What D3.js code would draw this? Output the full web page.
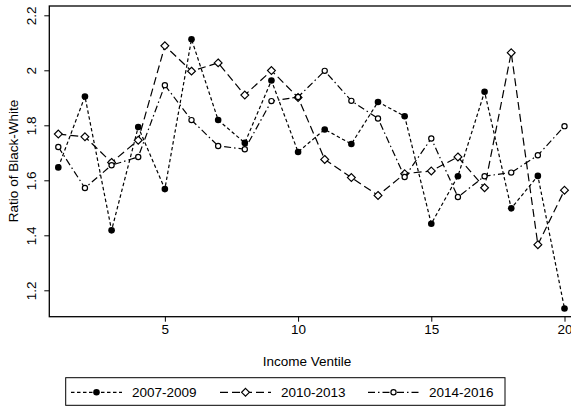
<!DOCTYPE html>
<html><head><meta charset="utf-8">
<script src="https://cdn.jsdelivr.net/npm/d3@7"></script>
<style>body{margin:0;background:#fff}svg{display:block}text{font-family:"Liberation Sans",Arial,sans-serif;fill:#000}</style>
</head><body><svg id="c" width="571" height="406"></svg>
<script>
const ventiles = d3.range(1, 21);
const seriesNames = ["2007-2009", "2010-2013", "2014-2016"];
const s2007 = [1.647,1.905,1.418,1.794,1.568,2.113,1.819,1.736,1.963,1.703,1.785,1.732,1.885,1.833,1.442,1.615,1.922,1.498,1.616,1.134];
const s2010 = [1.768,1.758,1.665,1.746,2.089,1.997,2.027,1.910,1.999,1.901,1.676,1.610,1.545,1.624,1.634,1.685,1.573,2.064,1.366,1.564];
const s2014 = [1.721,1.572,1.655,1.685,1.946,1.819,1.725,1.713,1.888,1.903,1.998,1.889,1.825,1.612,1.752,1.539,1.615,1.628,1.691,1.797];
const yTicks = [1.2, 1.4, 1.6, 1.8, 2.0, 2.2];
const xTicks = [5, 10, 15, 20];

const svg = d3.select("#c");
const x = d3.scaleLinear().domain([1, 20]).range([58.3, 564.5]);
const y = d3.scaleLinear().domain([1.2, 2.2]).range([290.3, 15.3]);
const plotL = 49.3, plotT = 6, plotB = 316.7, plotR = 572;

svg.append("rect").attr("x", plotL).attr("y", plotT).attr("width", plotR - plotL).attr("height", plotB - plotT)
  .attr("fill", "none").attr("stroke", "#000").attr("stroke-width", 1.3);

const yAxis = svg.append("g").attr("transform", `translate(${plotL},0)`)
  .call(d3.axisLeft(y).tickValues(yTicks).tickSize(5).tickSizeOuter(0).tickFormat(d => d3.format("~g")(d)));
yAxis.select(".domain").remove();
yAxis.selectAll(".tick line").attr("stroke", "#000").attr("stroke-width", 1);
yAxis.selectAll(".tick text").attr("x", 0).attr("dy", 0).attr("y", 0)
  .attr("transform", "translate(-13,0) rotate(-90)").attr("text-anchor", "middle")
  .style("font-size", "13.5px").style("font-family", '"Liberation Sans",Arial,sans-serif');

const xAxis = svg.append("g").attr("transform", `translate(0,${plotB})`)
  .call(d3.axisBottom(x).tickValues(xTicks).tickSize(5).tickSizeOuter(0));
xAxis.select(".domain").remove();
xAxis.selectAll(".tick line").attr("stroke", "#000").attr("stroke-width", 1);
xAxis.selectAll(".tick text").attr("y", 8).attr("dy", "0.71em")
  .style("font-size", "13.5px").style("font-family", '"Liberation Sans",Arial,sans-serif');

svg.append("text").attr("x", 307).attr("y", 366).attr("text-anchor", "middle").style("font-size", "13.5px").text("Income Ventile");
svg.append("text").attr("transform", "translate(18,161) rotate(-90)").attr("text-anchor", "middle").style("font-size", "13.5px").text("Ratio of Black-White");

const dashes = ["3.5,2.5", "8,4", "7,3,1.5,3"];
const data = [s2007, s2010, s2014];
const line = d3.line().x((d, i) => x(ventiles[i])).y(d => y(d));

function marker(g, k, cx, cy) {
  if (k === 0) g.append("circle").attr("cx", cx).attr("cy", cy).attr("r", 3.3).attr("fill", "#000");
  else if (k === 1) g.append("path").attr("d", `M${cx},${cy-3.9}L${cx+3.9},${cy}L${cx},${cy+3.9}L${cx-3.9},${cy}Z`)
    .attr("fill", "#fff").attr("stroke", "#000").attr("stroke-width", 1.2);
  else g.append("circle").attr("cx", cx).attr("cy", cy).attr("r", 2.6).attr("fill", "#fff").attr("stroke", "#000").attr("stroke-width", 1.2);
}

data.forEach((arr, k) => {
  const g = svg.append("g");
  g.append("path").datum(arr).attr("d", line).attr("fill", "none").attr("stroke", "#000")
    .attr("stroke-width", 1.2).attr("stroke-dasharray", dashes[k]);
  arr.forEach((v, i) => marker(g, k, x(ventiles[i]), y(v)));
});

// legend
const lg = svg.append("g");
lg.append("rect").attr("x", 65.7).attr("y", 377.7).attr("width", 439.3).attr("height", 27.6)
  .attr("fill", "#fff").attr("stroke", "#000").attr("stroke-width", 1);
const lx = [71, 220, 368];
seriesNames.forEach((name, k) => {
  const ly = 392.3;
  lg.append("line").attr("x1", lx[k]).attr("x2", lx[k] + 51).attr("y1", ly).attr("y2", ly)
    .attr("stroke", "#000").attr("stroke-width", 1.2).attr("stroke-dasharray", dashes[k]);
  marker(lg, k, lx[k] + 25.5, ly);
  lg.append("text").attr("x", lx[k] + 61).attr("y", ly).attr("dy", "0.35em").style("font-size", "13.5px").text(name);
});
</script></body></html>
